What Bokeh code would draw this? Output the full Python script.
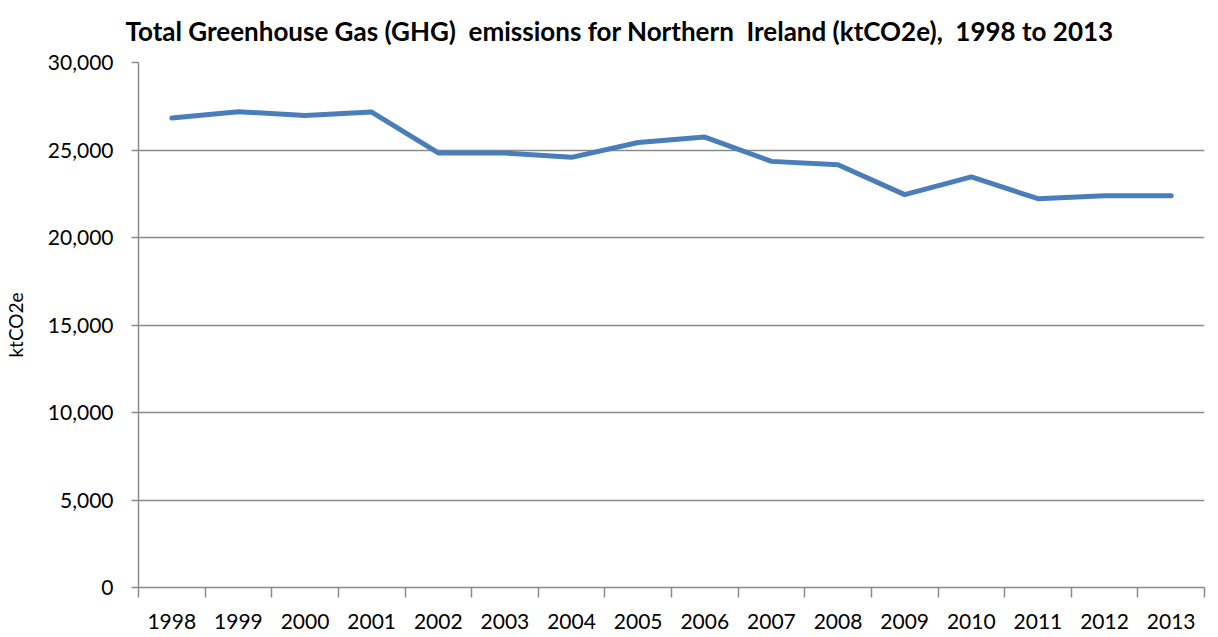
from bokeh.plotting import figure
from bokeh.models import FixedTicker, NumeralTickFormatter, CustomJSTickFormatter, Range1d
from bokeh.embed import file_html
from bokeh.resources import INLINE

years = ["1998", "1999", "2000", "2001", "2002", "2003", "2004", "2005",
         "2006", "2007", "2008", "2009", "2010", "2011", "2012", "2013"]
emissions = [26830, 27190, 26970, 27170, 24830, 24830, 24580, 25430,
             25740, 24350, 24160, 22450, 23460, 22220, 22390, 22390]

xpos = [i + 0.5 for i in range(len(years))]

p = figure(width=1210, height=636, output_backend="svg", toolbar_location=None,
           x_range=Range1d(0, len(years)), y_range=Range1d(0, 30000),
           min_border_left=129, min_border_right=6, min_border_top=62, min_border_bottom=49)
p.outline_line_color = None
p.background_fill_color = "white"

nb = "\u00a0"
p.title.text = ("Total Greenhouse Gas (GHG)" + nb + " emissions for Northern" + nb +
                " Ireland (ktCO2e)," + nb + " 1998 to 2013")
p.title.text_font = "Lato"
p.title.text_font_size = "26px"
p.title.text_font_style = "bold"
p.title.align = "left"
p.title.vertical_align = "top"
p.title.offset = -13
p.title.standoff = 28
p.title.text_color = "black"

p.line(xpos, emissions, line_color="#4a7ebb", line_width=5, line_cap="round", line_join="round")

grey = "#8a8a8a"
# y axis
p.yaxis.ticker = FixedTicker(ticks=[0, 5000, 10000, 15000, 20000, 25000, 30000])
p.yaxis.formatter = NumeralTickFormatter(format="0,0")
p.yaxis.axis_line_color = grey
p.yaxis.axis_line_width = 1.5
p.yaxis.major_tick_line_color = grey
p.yaxis.major_tick_line_width = 1.5
p.yaxis.major_tick_out = 7
p.yaxis.major_tick_in = 0
p.yaxis.minor_tick_line_color = None
p.yaxis.major_label_text_font = "Lato"
p.yaxis.major_label_text_font_size = "21px"
p.yaxis.major_label_text_color = "black"
p.yaxis.major_label_standoff = 18
p.yaxis.axis_label = "ktCO2e"
p.yaxis.axis_label_text_font = "Lato"
p.yaxis.axis_label_text_font_size = "19px"
p.yaxis.axis_label_text_font_style = "normal"
p.yaxis.axis_label_text_color = "black"
p.yaxis.axis_label_standoff = 18

# x axis
p.xaxis.ticker = FixedTicker(ticks=xpos, minor_ticks=list(range(len(years) + 1)))
p.xaxis.formatter = CustomJSTickFormatter(args=dict(labels=years),
                                          code="return labels[Math.floor(tick)];")
p.xaxis.axis_line_color = grey
p.xaxis.axis_line_width = 1.5
p.xaxis.major_tick_out = 0
p.xaxis.major_tick_in = 0
p.xaxis.major_tick_line_color = None
p.xaxis.minor_tick_out = 10
p.xaxis.minor_tick_in = 0
p.xaxis.minor_tick_line_color = grey
p.xaxis.minor_tick_line_width = 1.5
p.xaxis.major_label_text_font = "Lato"
p.xaxis.major_label_text_font_size = "21px"
p.xaxis.major_label_text_color = "black"
p.xaxis.major_label_standoff = 16

p.xgrid.grid_line_color = None
p.ygrid.grid_line_color = grey
p.ygrid.grid_line_width = 1.5

open("out.html", "w").write(file_html(p, INLINE))
